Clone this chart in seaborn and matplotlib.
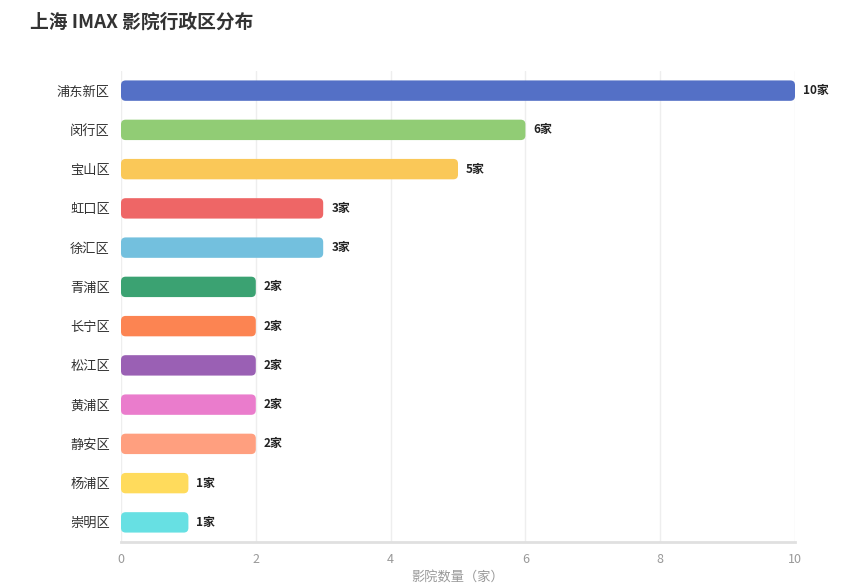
import matplotlib
matplotlib.use("Agg")
import matplotlib.pyplot as plt
import seaborn as sns
import pandas as pd
from matplotlib.patches import FancyBboxPatch

# data
districts = ["浦东新区", "闵行区", "宝山区", "虹口区", "徐汇区", "青浦区",
             "长宁区", "松江区", "黄浦区", "静安区", "杨浦区", "崇明区"]
counts = [10, 6, 5, 3, 3, 2, 2, 2, 2, 2, 1, 1]
colors = ["#5470c6", "#91cc75", "#fac858", "#ee6666", "#73c0de", "#3ba272",
          "#fc8452", "#9a60b4", "#ea7ccc", "#ff9f7f", "#ffdb5c", "#67e0e3"]
x_ticks = [0, 2, 4, 6, 8, 10]

df = pd.DataFrame({"district": districts, "count": counts})

sns.set_theme(style="white")
plt.rcParams["font.family"] = ["Noto Sans CJK SC", "DejaVu Sans"]

fig = plt.figure(figsize=(8.48, 5.88), dpi=100)
ax = fig.add_axes([121 / 848, 1 - 542 / 588, 674 / 848, 471 / 588])

sns.barplot(data=df, x="count", y="district", hue="district", palette=colors,
            legend=False, width=0.52, ax=ax, saturation=1)

ax.set_xlim(0, 10)
ax.set_ylim(len(districts) - 0.5, -0.5)

# round the bar corners
px_x = 674 / 10
px_y = 471 / len(districts)
aspect = px_x / px_y
for p in list(ax.patches):
    x0, y0 = p.get_x(), p.get_y()
    w, h = p.get_width(), p.get_height()
    fc = p.get_facecolor()
    p.remove()
    ax.add_patch(FancyBboxPatch((x0, y0), w, h,
                                boxstyle="round,pad=0,rounding_size=0.07",
                                mutation_aspect=aspect, fc=fc, ec="none",
                                zorder=3))

for i, v in enumerate(counts):
    ax.text(v + 0.12, i, f"{v}家", va="center", ha="left", fontsize=8.5,
            fontweight="bold", color="#222222")

ax.set_xticks(x_ticks)
ax.set_xticklabels([str(t) for t in x_ticks], color="#999999", fontsize=9)
ax.tick_params(axis="y", labelsize=9.5, labelcolor="#333333", length=0, pad=8)
ax.tick_params(axis="x", length=0, pad=8)
ax.set_ylabel("")
ax.set_xlabel("影院数量（家）", color="#999999", fontsize=9.5, labelpad=4)

ax.grid(axis="x", color="#eeeeee", linewidth=1)
ax.set_axisbelow(True)
for s in ["top", "right", "left"]:
    ax.spines[s].set_visible(False)
ax.spines["bottom"].set_color("#e0e0e0")
ax.spines["bottom"].set_linewidth(2)

fig.text(30 / 848, 1 - 22 / 588, "上海 IMAX 影院行政区分布", fontsize=13.5,
         fontweight="bold", color="#333333", ha="left", va="center")

fig.savefig("out.png", dpi=100)
